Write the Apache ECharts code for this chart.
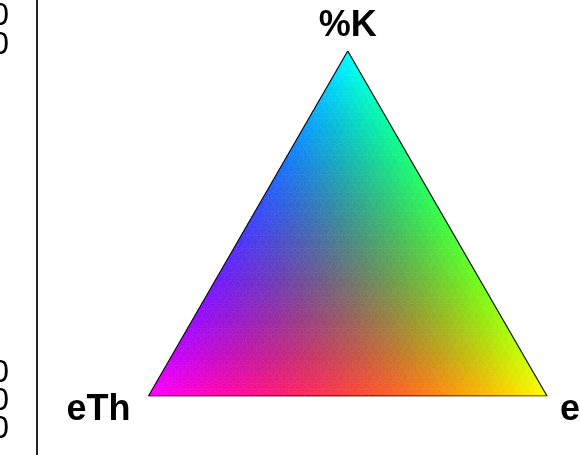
<!DOCTYPE html>
<html>
<head>
<meta charset="utf-8">
<script src="https://cdn.jsdelivr.net/npm/echarts@6/dist/echarts.min.js"></script>
<style>html,body{margin:0;padding:0;background:#fff;}#c{width:580px;height:455px;}</style>
</head>
<body>
<div id="c"></div>
<script>
// ---- data ----
var vertexLabels = ['%K', 'eTh', 'eU'];          // top, bottom-left, bottom-right
var gridDivisions = 56;                          // cells per side of the colour triangle
var colourPower = 2;                             // saturation curve of the colour key
var sideTickTexts = ['0', '0', '0', '0', '0'];   // clipped labels of the neighbouring panel
var sideTickRows = [16, 45, 373, 401, 429];

var H = Math.sqrt(3) / 2;
// ternary (K, Th, U) -> cartesian
function toXY(k, th, u) { return [u + k / 2, k * H]; }

function colourAt(k, th, u) {
  var r = Math.pow(1 - k, colourPower), g = Math.pow(1 - th, colourPower), b = Math.pow(1 - u, colourPower);
  return 'rgb(' + Math.round(r * 255) + ',' + Math.round(g * 255) + ',' + Math.round(b * 255) + ')';
}

// cells: [i (K steps), j (U steps), up]
var cells = [];
for (var i = 0; i < gridDivisions; i++) {
  for (var j = 0; i + j < gridDivisions; j++) {
    cells.push([i, j, 1]);
    if (i + j < gridDivisions - 1) cells.push([i, j, 0]);
  }
}

var chart = echarts.init(document.getElementById('c'), null, {renderer: 'canvas'});

var outline = [toXY(0, 1, 0), toXY(0, 0, 1), toXY(1, 0, 0), toXY(0, 1, 0)];
var vertexPts = [
  {value: toXY(1, 0, 0), name: vertexLabels[0], label: {offset: [0, -25]}},
  {value: toXY(0, 1, 0), name: vertexLabels[1], label: {offset: [-50, 14]}},
  {value: toXY(0, 0, 1), name: vertexLabels[2], label: {offset: [36, 14]}}
];

var sideGraphics = sideTickTexts.map(function (t, idx) {
  return {
    type: 'text', x: 9, y: sideTickRows[idx],
    style: {text: t, font: '32px "Liberation Sans"', fill: '#000', align: 'right', verticalAlign: 'middle'}
  };
});

chart.setOption({
  animation: false,
  grid: {left: 148.5, top: 51, width: 398.5, height: 345},
  xAxis: {type: 'value', min: 0, max: 1, show: false},
  yAxis: {type: 'value', min: 0, max: H, show: false},
  series: [
    {
      type: 'custom',
      data: cells,
      silent: true,
      renderItem: function (params, api) {
        var i = api.value(0), j = api.value(1), up = api.value(2);
        var n = gridDivisions;
        var pts;
        if (up) pts = [[i, j], [i + 1, j], [i, j + 1]];
        else pts = [[i + 1, j], [i, j + 1], [i + 1, j + 1]];
        var ck = 0, cu = 0;
        var pix = pts.map(function (p) {
          var k = p[0] / n, u = p[1] / n;
          ck += k; cu += u;
          return api.coord(toXY(k, 1 - k - u, u));
        });
        ck /= 3; cu /= 3;
        var col = colourAt(ck, 1 - ck - cu, cu);
        return {
          type: 'polygon',
          shape: {points: pix},
          style: {fill: col, stroke: col, lineWidth: 0.6}
        };
      },
      z: 1
    },
    {
      type: 'line',
      data: outline,
      symbol: 'none',
      silent: true,
      lineStyle: {color: '#111', width: 1.2},
      z: 3
    },
    {
      type: 'scatter',
      data: vertexPts,
      symbolSize: 0,
      silent: true,
      itemStyle: {opacity: 1, color: '#000'},
      label: {
        show: true,
        position: 'inside',
        formatter: '{b}',
        fontFamily: '"Liberation Sans", Arial, sans-serif',
        fontWeight: 'bold',
        fontSize: 36,
        color: '#000',
        opacity: 1,
        textBorderWidth: 0,
        textShadowBlur: 0
      },
      z: 4
    }
  ],
  graphic: [
    {type: 'line', shape: {x1: 37, y1: 0, x2: 37, y2: 455}, style: {stroke: '#222', lineWidth: 2}}
  ].concat(sideGraphics)
});
</script>
</body>
</html>
